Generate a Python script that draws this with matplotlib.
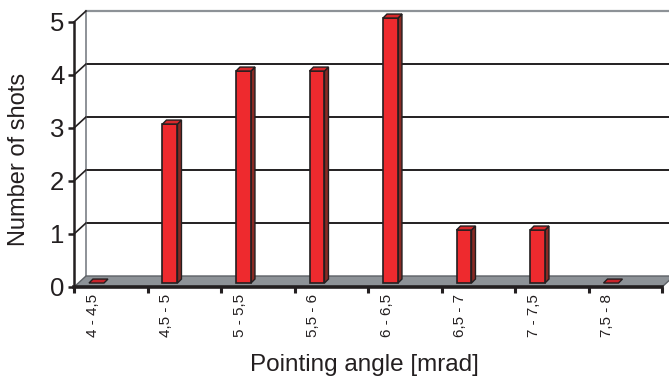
import matplotlib
matplotlib.use("Agg")
import matplotlib.pyplot as plt
from matplotlib.patches import Polygon

plt.rcParams['font.family'] = ['Liberation Sans', 'DejaVu Sans']

# pointing angle bins and shot counts
bins = ['4 - 4,5', '4,5 - 5', '5 - 5,5', '5,5 - 6', '6 - 6,5', '6,5 - 7', '7 - 7,5', '7,5 - 8']
shots = [0, 3, 4, 4, 5, 1, 1, 0]
yticks = [0, 1, 2, 3, 4, 5]

dark = '#231f20'
grey = '#8d9297'
red_front = '#ee2a2e'
red_side = '#8a2a24'
red_top = '#d8292c'

# fake 3D geometry (data units)
x_front0 = -0.306
x_front1 = len(bins) - 0.306
wall_dx, wall_dy = 0.163, 0.2075
bar_hw = 0.102
bar_dx, bar_dy = 0.054, 0.075
bar_base = 0.075

fig = plt.figure(figsize=(6.69, 3.80), dpi=100)
ax = fig.add_axes([74 / 669, 93 / 380, 595 / 669, 276 / 380])
ax.set_xlim(x_front0, 7.789)
ax.set_ylim(0, 5.2075)
ax.patch.set_visible(False)

# back wall gridlines, top edge and left edge
bx = x_front0 + wall_dx
for v in yticks[1:5]:
    ax.plot([bx, 7.789], [v + wall_dy, v + wall_dy], color=dark, lw=1.4, clip_on=False, zorder=1)
ax.plot([bx, 7.789], [5 + wall_dy] * 2, color=grey, lw=1.6, clip_on=False, zorder=1)
ax.plot([bx, bx], [wall_dy, 5 + wall_dy], color=grey, lw=1.4, clip_on=False, zorder=1)
# side wall gridlines
for v in yticks[1:]:
    ax.plot([x_front0, bx], [v, v + wall_dy], color=dark, lw=1.2, clip_on=False, zorder=1)

# floor
floor = Polygon([(x_front0, 0), (x_front1, 0), (x_front1 + wall_dx, wall_dy), (bx, wall_dy)],
                closed=True, facecolor=grey, edgecolor='#5d6166', lw=1, clip_on=False, zorder=2)
ax.add_patch(floor)

# bars: front face, side face, top face
for i, v in enumerate(shots):
    l, r = i - bar_hw, i + bar_hw
    b, t = bar_base, bar_base + v
    if v > 0:
        ax.add_patch(Polygon([(r, b), (r + bar_dx, b + bar_dy), (r + bar_dx, t + bar_dy), (r, t)],
                             facecolor=red_side, edgecolor=dark, lw=1, clip_on=False, zorder=3))
        ax.add_patch(Polygon([(l, b), (r, b), (r, t), (l, t)],
                             facecolor=red_front, edgecolor=dark, lw=1.2, clip_on=False, zorder=4))
    ax.add_patch(Polygon([(l, t), (r, t), (r + bar_dx, t + bar_dy), (l + bar_dx, t + bar_dy)],
                         facecolor=red_top if v > 0 else '#c8232a', edgecolor=dark, lw=1,
                         clip_on=False, zorder=4))

# axes lines
for s in ['top', 'right']:
    ax.spines[s].set_visible(False)
ax.spines['left'].set_bounds(0, 5)
ax.spines['left'].set_color(dark)
ax.spines['left'].set_linewidth(1.8)
ax.spines['bottom'].set_bounds(x_front0, x_front1)
ax.spines['bottom'].set_color(dark)
ax.spines['bottom'].set_linewidth(2.6)
ax.spines['bottom'].set_zorder(5)

ax.set_yticks(yticks)
ax.set_yticklabels([str(v) for v in yticks], color=dark)
ax.tick_params(axis='y', direction='out', length=4.5, width=1.8, color=dark,
               labelsize=18.5, pad=2.5)
ax.set_xticks([x_front0 + k for k in range(len(bins) + 1)])
ax.tick_params(axis='x', which='major', direction='out', length=4, width=2.2,
               color=dark, labelbottom=False)
ax.set_xticks([i - 0.05 for i in range(len(bins))], minor=True)
ax.set_xticklabels(bins, minor=True, rotation=90, fontsize=11, va='top', color=dark)
ax.tick_params(axis='x', which='minor', length=0, pad=5)

fig.text(19 / 669, 1 - 159 / 380, 'Number of shots', rotation=90, fontsize=17,
         ha='center', va='center', color=dark)
fig.text(364 / 669, 1 - 371 / 380, 'Pointing angle [mrad]', fontsize=17.5,
         ha='center', va='baseline', color=dark)

fig.savefig('out.png', dpi=100)
